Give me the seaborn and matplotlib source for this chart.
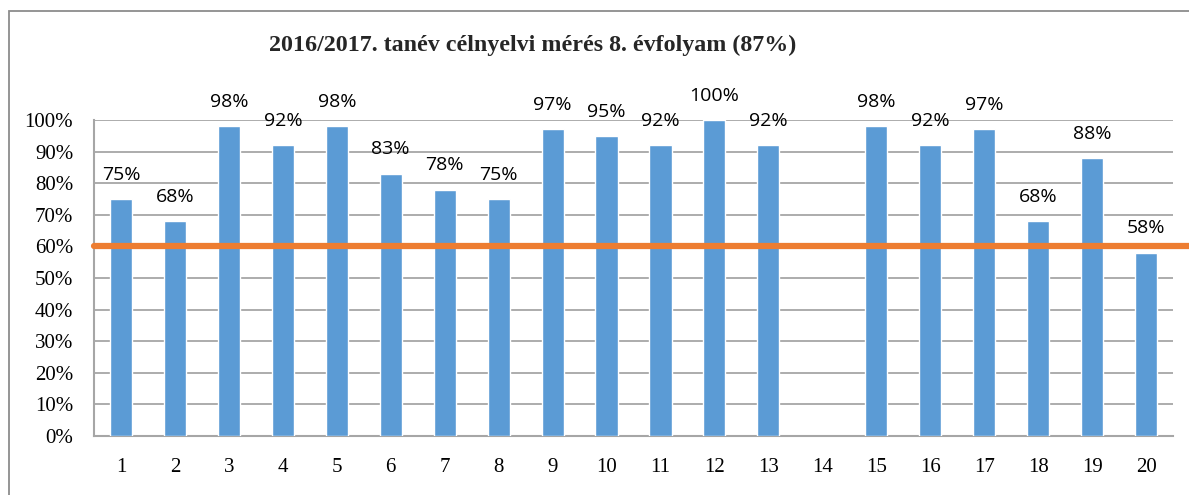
import numpy as np
import pandas as pd
import matplotlib.pyplot as plt
import seaborn as sns
from matplotlib.patches import Rectangle

# ── DATA ──
categories = [str(i) for i in range(1, 21)]
scores     = [75, 68, 98, 92, 98, 83, 78, 75, 97, 95,
              92, 100, 92, np.nan, 98, 92, 97, 68, 88, 58]
threshold  = 60
title      = "2016/2017. tanév célnyelvi mérés 8. évfolyam (87%)"

BAR_COLOR  = "#5B9BD5"
LINE_COLOR = "#ED7D31"
GRID_COLOR = "#A6A6A6"

df = pd.DataFrame({"cat": categories, "score": scores})

sns.set_style("white")
plt.rcParams["font.family"] = ["Liberation Serif", "DejaVu Serif"]

fig = plt.figure(figsize=(11.89, 4.95), dpi=100)
ax = fig.add_axes([94 / 1189, 1 - 436 / 495, (1173 - 94) / 1189, (436 - 120) / 495])

sns.barplot(data=df, x="cat", y="score", color=BAR_COLOR, width=0.41,
            saturation=1, ax=ax, zorder=3)

# data labels
for i, v in enumerate(scores):
    if np.isnan(v):
        continue
    ax.annotate(f"{v:.0f}%", (i, v), xytext=(0, 11), textcoords="offset points",
                ha="center", va="bottom", fontsize=14, family="Open Sans",
                color="black", annotation_clip=False)

# threshold line (runs out past the plot area like the original)
ax.axhline(threshold, xmin=0, xmax=(1189 - 94) / (1173 - 94), color=LINE_COLOR,
           lw=4.5, zorder=4, clip_on=False)

ax.set_ylim(0, 100)
ax.set_xlim(-0.5, len(categories) - 0.5)
ax.set_yticks(np.arange(0, 101, 10))
ax.set_yticklabels([f"{t}%" for t in range(0, 101, 10)])
ax.tick_params(axis="both", length=0, labelsize=15, colors="black")
ax.tick_params(axis="y", pad=15)
ax.tick_params(axis="x", pad=16)
ax.yaxis.grid(True, color=GRID_COLOR, lw=1.3, zorder=0)
ax.set_axisbelow(True)
ax.set_xlabel("")
ax.set_ylabel("")
for s in ["top", "right"]:
    ax.spines[s].set_visible(False)
for s in ["left", "bottom"]:
    ax.spines[s].set_color(GRID_COLOR)
    ax.spines[s].set_linewidth(1.5)

fig.text(533 / 1189, 1 - 45 / 495, title, ha="center", va="center",
         fontsize=17.3, fontweight="bold")

# chart-area border (only top and left fall inside the image)
fig.patches.append(Rectangle((9 / 1189, -0.1), 1.1, 1 - 11 / 495 + 0.1,
                             transform=fig.transFigure, fill=False,
                             edgecolor="#8C8C8C", lw=1.3))

fig.savefig("out.png", dpi=100)
